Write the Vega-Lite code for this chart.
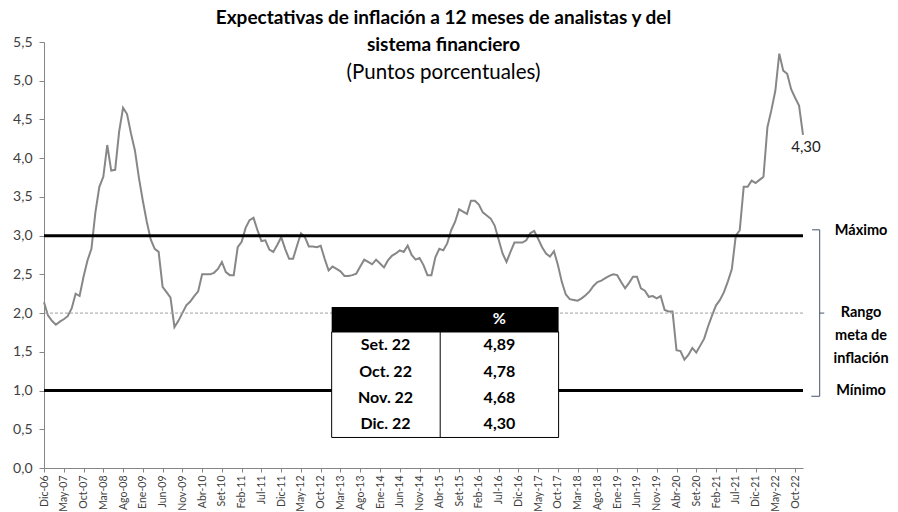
{
  "$schema": "https://vega.github.io/schema/vega-lite/v6.json",
  "width": 759,
  "height": 426,
  "autosize": {"type": "none"},
  "padding": {"left": 44, "top": 42, "right": 95, "bottom": 44},
  "background": "white",
  "config": {
    "font": "Lato",
    "view": {"stroke": null},
    "locale": {"number": {"decimal": ",", "thousands": ".", "grouping": [3], "currency": ["", ""]}},
    "axisY": {
      "title": null,
      "format": ".1f",
      "labelFont": "Lato",
      "labelFontSize": 14,
      "labelColor": "#404040",
      "labelPadding": 7,
      "domainColor": "#868686",
      "tickColor": "#868686",
      "tickSize": 5,
      "grid": false
    }
  },
  "title": {
    "text": ["Expectativas de inflación a 12 meses de analistas y del", "sistema financiero"],
    "subtitle": "(Puntos porcentuales)",
    "anchor": "middle",
    "font": "Lato",
    "fontSize": 19,
    "fontWeight": "bold",
    "color": "#000000",
    "lineHeight": 27,
    "subtitleFont": "Lato",
    "subtitleFontSize": 20.5,
    "subtitleFontWeight": "normal",
    "subtitleColor": "#000000",
    "subtitlePadding": 8,
    "offset": -48,
    "dx": 20
  },
  "datasets": {
    "serie": [
      {"mes": "Dic-06", "v": 2.14},
      {"mes": "Ene-07", "v": 1.97}, {"mes": "Feb-07", "v": 1.90}, {"mes": "Mar-07", "v": 1.85}, {"mes": "Abr-07", "v": 1.89}, {"mes": "May-07", "v": 1.92}, {"mes": "Jun-07", "v": 1.96}, {"mes": "Jul-07", "v": 2.06}, {"mes": "Ago-07", "v": 2.25}, {"mes": "Set-07", "v": 2.22}, {"mes": "Oct-07", "v": 2.47}, {"mes": "Nov-07", "v": 2.68}, {"mes": "Dic-07", "v": 2.83},
      {"mes": "Ene-08", "v": 3.30}, {"mes": "Feb-08", "v": 3.63}, {"mes": "Mar-08", "v": 3.76}, {"mes": "Abr-08", "v": 4.17}, {"mes": "May-08", "v": 3.84}, {"mes": "Jun-08", "v": 3.85}, {"mes": "Jul-08", "v": 4.34}, {"mes": "Ago-08", "v": 4.65}, {"mes": "Set-08", "v": 4.57}, {"mes": "Oct-08", "v": 4.32}, {"mes": "Nov-08", "v": 4.10}, {"mes": "Dic-08", "v": 3.75},
      {"mes": "Ene-09", "v": 3.45}, {"mes": "Feb-09", "v": 3.18}, {"mes": "Mar-09", "v": 2.95}, {"mes": "Abr-09", "v": 2.83}, {"mes": "May-09", "v": 2.79}, {"mes": "Jun-09", "v": 2.34}, {"mes": "Jul-09", "v": 2.27}, {"mes": "Ago-09", "v": 2.20}, {"mes": "Set-09", "v": 1.82}, {"mes": "Oct-09", "v": 1.90}, {"mes": "Nov-09", "v": 2.00}, {"mes": "Dic-09", "v": 2.10},
      {"mes": "Ene-10", "v": 2.15}, {"mes": "Feb-10", "v": 2.22}, {"mes": "Mar-10", "v": 2.28}, {"mes": "Abr-10", "v": 2.50}, {"mes": "May-10", "v": 2.50}, {"mes": "Jun-10", "v": 2.50}, {"mes": "Jul-10", "v": 2.52}, {"mes": "Ago-10", "v": 2.57}, {"mes": "Set-10", "v": 2.66}, {"mes": "Oct-10", "v": 2.53}, {"mes": "Nov-10", "v": 2.49}, {"mes": "Dic-10", "v": 2.49},
      {"mes": "Ene-11", "v": 2.85}, {"mes": "Feb-11", "v": 2.92}, {"mes": "Mar-11", "v": 3.10}, {"mes": "Abr-11", "v": 3.20}, {"mes": "May-11", "v": 3.23}, {"mes": "Jun-11", "v": 3.07}, {"mes": "Jul-11", "v": 2.93}, {"mes": "Ago-11", "v": 2.94}, {"mes": "Set-11", "v": 2.82}, {"mes": "Oct-11", "v": 2.79}, {"mes": "Nov-11", "v": 2.88}, {"mes": "Dic-11", "v": 2.98},
      {"mes": "Ene-12", "v": 2.83}, {"mes": "Feb-12", "v": 2.70}, {"mes": "Mar-12", "v": 2.70}, {"mes": "Abr-12", "v": 2.87}, {"mes": "May-12", "v": 3.03}, {"mes": "Jun-12", "v": 2.98}, {"mes": "Jul-12", "v": 2.86}, {"mes": "Ago-12", "v": 2.86}, {"mes": "Set-12", "v": 2.85}, {"mes": "Oct-12", "v": 2.87}, {"mes": "Nov-12", "v": 2.70}, {"mes": "Dic-12", "v": 2.55},
      {"mes": "Ene-13", "v": 2.60}, {"mes": "Feb-13", "v": 2.57}, {"mes": "Mar-13", "v": 2.54}, {"mes": "Abr-13", "v": 2.48}, {"mes": "May-13", "v": 2.48}, {"mes": "Jun-13", "v": 2.49}, {"mes": "Jul-13", "v": 2.51}, {"mes": "Ago-13", "v": 2.60}, {"mes": "Set-13", "v": 2.69}, {"mes": "Oct-13", "v": 2.66}, {"mes": "Nov-13", "v": 2.63}, {"mes": "Dic-13", "v": 2.69},
      {"mes": "Ene-14", "v": 2.64}, {"mes": "Feb-14", "v": 2.59}, {"mes": "Mar-14", "v": 2.68}, {"mes": "Abr-14", "v": 2.74}, {"mes": "May-14", "v": 2.77}, {"mes": "Jun-14", "v": 2.81}, {"mes": "Jul-14", "v": 2.79}, {"mes": "Ago-14", "v": 2.87}, {"mes": "Set-14", "v": 2.75}, {"mes": "Oct-14", "v": 2.69}, {"mes": "Nov-14", "v": 2.71}, {"mes": "Dic-14", "v": 2.62},
      {"mes": "Ene-15", "v": 2.49}, {"mes": "Feb-15", "v": 2.49}, {"mes": "Mar-15", "v": 2.72}, {"mes": "Abr-15", "v": 2.83}, {"mes": "May-15", "v": 2.81}, {"mes": "Jun-15", "v": 2.90}, {"mes": "Jul-15", "v": 3.07}, {"mes": "Ago-15", "v": 3.18}, {"mes": "Set-15", "v": 3.34}, {"mes": "Oct-15", "v": 3.31}, {"mes": "Nov-15", "v": 3.28}, {"mes": "Dic-15", "v": 3.45},
      {"mes": "Ene-16", "v": 3.45}, {"mes": "Feb-16", "v": 3.40}, {"mes": "Mar-16", "v": 3.30}, {"mes": "Abr-16", "v": 3.26}, {"mes": "May-16", "v": 3.22}, {"mes": "Jun-16", "v": 3.13}, {"mes": "Jul-16", "v": 2.95}, {"mes": "Ago-16", "v": 2.77}, {"mes": "Set-16", "v": 2.66}, {"mes": "Oct-16", "v": 2.79}, {"mes": "Nov-16", "v": 2.91}, {"mes": "Dic-16", "v": 2.91},
      {"mes": "Ene-17", "v": 2.91}, {"mes": "Feb-17", "v": 2.94}, {"mes": "Mar-17", "v": 3.03}, {"mes": "Abr-17", "v": 3.06}, {"mes": "May-17", "v": 2.96}, {"mes": "Jun-17", "v": 2.85}, {"mes": "Jul-17", "v": 2.77}, {"mes": "Ago-17", "v": 2.73}, {"mes": "Set-17", "v": 2.80}, {"mes": "Oct-17", "v": 2.62}, {"mes": "Nov-17", "v": 2.40}, {"mes": "Dic-17", "v": 2.24},
      {"mes": "Ene-18", "v": 2.18}, {"mes": "Feb-18", "v": 2.17}, {"mes": "Mar-18", "v": 2.16}, {"mes": "Abr-18", "v": 2.19}, {"mes": "May-18", "v": 2.23}, {"mes": "Jun-18", "v": 2.28}, {"mes": "Jul-18", "v": 2.35}, {"mes": "Ago-18", "v": 2.40}, {"mes": "Set-18", "v": 2.42}, {"mes": "Oct-18", "v": 2.45}, {"mes": "Nov-18", "v": 2.48}, {"mes": "Dic-18", "v": 2.50},
      {"mes": "Ene-19", "v": 2.49}, {"mes": "Feb-19", "v": 2.40}, {"mes": "Mar-19", "v": 2.32}, {"mes": "Abr-19", "v": 2.39}, {"mes": "May-19", "v": 2.47}, {"mes": "Jun-19", "v": 2.47}, {"mes": "Jul-19", "v": 2.32}, {"mes": "Ago-19", "v": 2.29}, {"mes": "Set-19", "v": 2.21}, {"mes": "Oct-19", "v": 2.22}, {"mes": "Nov-19", "v": 2.19}, {"mes": "Dic-19", "v": 2.22},
      {"mes": "Ene-20", "v": 2.04}, {"mes": "Feb-20", "v": 2.02}, {"mes": "Mar-20", "v": 2.02}, {"mes": "Abr-20", "v": 1.52}, {"mes": "May-20", "v": 1.51}, {"mes": "Jun-20", "v": 1.40}, {"mes": "Jul-20", "v": 1.46}, {"mes": "Ago-20", "v": 1.55}, {"mes": "Set-20", "v": 1.49}, {"mes": "Oct-20", "v": 1.58}, {"mes": "Nov-20", "v": 1.67}, {"mes": "Dic-20", "v": 1.83},
      {"mes": "Ene-21", "v": 1.97}, {"mes": "Feb-21", "v": 2.10}, {"mes": "Mar-21", "v": 2.17}, {"mes": "Abr-21", "v": 2.27}, {"mes": "May-21", "v": 2.41}, {"mes": "Jun-21", "v": 2.57}, {"mes": "Jul-21", "v": 3.00}, {"mes": "Ago-21", "v": 3.07}, {"mes": "Set-21", "v": 3.63}, {"mes": "Oct-21", "v": 3.63}, {"mes": "Nov-21", "v": 3.71}, {"mes": "Dic-21", "v": 3.68},
      {"mes": "Ene-22", "v": 3.72}, {"mes": "Feb-22", "v": 3.76}, {"mes": "Mar-22", "v": 4.40}, {"mes": "Abr-22", "v": 4.62}, {"mes": "May-22", "v": 4.87}, {"mes": "Jun-22", "v": 5.35}, {"mes": "Jul-22", "v": 5.13}, {"mes": "Ago-22", "v": 5.09}, {"mes": "Set-22", "v": 4.89}, {"mes": "Oct-22", "v": 4.78}, {"mes": "Nov-22", "v": 4.68}, {"mes": "Dic-22", "v": 4.30}
    ],
    "umbrales": [
      {"nivel": "Máximo", "valor": 3, "etiqueta": "Máximo"},
      {"nivel": "Meta", "valor": 2, "etiqueta": ["Rango", "meta de", "inflación"]},
      {"nivel": "Mínimo", "valor": 1, "etiqueta": "Mínimo"}
    ],
    "tabla": [
      {"periodo": "Set. 22", "valor": 4.89},
      {"periodo": "Oct. 22", "valor": 4.78},
      {"periodo": "Nov. 22", "valor": 4.68},
      {"periodo": "Dic. 22", "valor": 4.30}
    ]
  },
  "resolve": {"scale": {"x": "independent", "y": "independent"}},
  "layer": [
    {
      "layer": [
        {
          "data": {"name": "serie"},
          "mark": {"type": "line", "color": "#878787", "strokeWidth": 2},
          "encoding": {
            "x": {
              "field": "mes", "type": "ordinal", "sort": null,
              "scale": {"type": "point", "padding": 0},
              "axis": {
                "title": null,
                "values": ["Dic-06","May-07","Oct-07","Mar-08","Ago-08","Ene-09","Jun-09","Nov-09","Abr-10","Set-10","Feb-11","Jul-11","Dic-11","May-12","Oct-12","Mar-13","Ago-13","Ene-14","Jun-14","Nov-14","Abr-15","Set-15","Feb-16","Jul-16","Dic-16","May-17","Oct-17","Mar-18","Ago-18","Ene-19","Jun-19","Nov-19","Abr-20","Set-20","Feb-21","Jul-21","Dic-21","May-22","Oct-22"],
                "labelAngle": -90,
                "labelFont": "Lato",
                "labelFontSize": 10.5,
                "labelColor": "#404040",
                "labelPadding": 3,
                "labelOverlap": false,
                "domainColor": "#868686",
                "tickColor": "#868686",
                "tickSize": 4,
                "grid": false
              }
            },
            "y": {
              "field": "v", "type": "quantitative",
              "scale": {"domain": [0, 5.5], "nice": false},
              "axis": {"values": [0, 0.5, 1, 1.5, 2, 2.5, 3, 3.5, 4, 4.5, 5, 5.5], "labelOverlap": false}
            }
          }
        },
        {
          "data": {"name": "umbrales"},
          "transform": [{"filter": "datum.nivel === 'Meta'"}],
          "mark": {"type": "rule", "color": "#a0a0a0", "strokeWidth": 1, "strokeDash": [3, 2]},
          "encoding": {"y": {"field": "valor", "type": "quantitative", "axis": {"values": [0, 0.5, 1, 1.5, 2, 2.5, 3, 3.5, 4, 4.5, 5, 5.5], "labelOverlap": false}}}
        },
        {
          "data": {"name": "umbrales"},
          "transform": [{"filter": "datum.nivel !== 'Meta'"}],
          "mark": {"type": "rule", "color": "#000000", "strokeWidth": 3},
          "encoding": {"y": {"field": "valor", "type": "quantitative", "axis": {"values": [0, 0.5, 1, 1.5, 2, 2.5, 3, 3.5, 4, 4.5, 5, 5.5], "labelOverlap": false}}}
        },
        {
          "data": {"name": "serie"},
          "mark": {"type": "text", "font": "Lato", "fontSize": 15, "color": "#222222", "dx": 3, "dy": 12},
          "encoding": {
            "x": {"field": "mes", "type": "ordinal", "sort": null},
            "y": {"field": "v", "type": "quantitative", "axis": {"values": [0, 0.5, 1, 1.5, 2, 2.5, 3, 3.5, 4, 4.5, 5, 5.5], "labelOverlap": false}},
            "text": {"condition": {"test": "datum.mes === 'Dic-22'", "field": "v", "format": ".2f"}, "value": ""}
          }
        }
      ]
    },
    {
      "data": {"values": [{}]},
      "layer": [
        {
          "mark": {"type": "rect", "color": "#000000"},
          "encoding": {
            "x": {"datum": 0.379, "type": "quantitative", "scale": {"domain": [0, 1]}, "axis": null},
            "x2": {"datum": 0.678},
            "y": {"datum": 2.079, "type": "quantitative", "scale": {"domain": [0, 5.5]}, "axis": null},
            "y2": {"datum": 1.756}
          }
        },
        {
          "mark": {"type": "rect", "fill": "#ffffff", "stroke": "#000000", "strokeWidth": 1},
          "encoding": {
            "x": {"datum": 0.379, "type": "quantitative", "scale": {"domain": [0, 1]}, "axis": null},
            "x2": {"datum": 0.678},
            "y": {"datum": 1.756, "type": "quantitative", "scale": {"domain": [0, 5.5]}, "axis": null},
            "y2": {"datum": 0.394}
          }
        },
        {
          "mark": {"type": "rule", "color": "#000000", "strokeWidth": 1},
          "encoding": {
            "x": {"datum": 0.522, "type": "quantitative", "scale": {"domain": [0, 1]}, "axis": null},
            "y": {"datum": 1.756, "type": "quantitative", "scale": {"domain": [0, 5.5]}, "axis": null},
            "y2": {"datum": 0.394}
          }
        },
        {
          "mark": {"type": "text", "text": "%", "font": "Lato", "fontSize": 16, "fontWeight": "bold", "color": "#ffffff"},
          "encoding": {
            "x": {"datum": 0.600, "type": "quantitative", "scale": {"domain": [0, 1]}, "axis": null},
            "y": {"datum": 1.918, "type": "quantitative", "scale": {"domain": [0, 5.5]}, "axis": null}
          }
        },
        {
          "mark": {"type": "rule", "color": "#44546a", "strokeWidth": 1},
          "encoding": {
            "x": {"datum": 1.022, "type": "quantitative", "scale": {"domain": [0, 1]}, "axis": null},
            "y": {"datum": 3.075, "type": "quantitative", "scale": {"domain": [0, 5.5]}, "axis": null},
            "y2": {"datum": 0.926}
          }
        },
        {
          "mark": {"type": "rule", "color": "#44546a", "strokeWidth": 1},
          "encoding": {
            "x": {"datum": 1.012, "type": "quantitative", "scale": {"domain": [0, 1]}, "axis": null},
            "x2": {"datum": 1.022},
            "y": {"datum": 3.075, "type": "quantitative", "scale": {"domain": [0, 5.5]}, "axis": null}
          }
        },
        {
          "mark": {"type": "rule", "color": "#44546a", "strokeWidth": 1},
          "encoding": {
            "x": {"datum": 1.011, "type": "quantitative", "scale": {"domain": [0, 1]}, "axis": null},
            "x2": {"datum": 1.022},
            "y": {"datum": 0.926, "type": "quantitative", "scale": {"domain": [0, 5.5]}, "axis": null}
          }
        },
        {
          "mark": {"type": "rule", "color": "#44546a", "strokeWidth": 1},
          "encoding": {
            "x": {"datum": 1.022, "type": "quantitative", "scale": {"domain": [0, 1]}, "axis": null},
            "x2": {"datum": 1.028},
            "y": {"datum": 2.0, "type": "quantitative", "scale": {"domain": [0, 5.5]}, "axis": null}
          }
        },
        {
          "data": {"name": "umbrales"},
          "transform": [{"filter": "datum.nivel === 'Máximo'"}],
          "mark": {"type": "text", "font": "Lato", "fontSize": 14.5, "fontWeight": "bold", "color": "#000000", "dy": -5},
          "encoding": {
            "x": {"datum": 1.0765, "type": "quantitative", "scale": {"domain": [0, 1]}, "axis": null},
            "y": {"field": "valor", "type": "quantitative", "scale": {"domain": [0, 5.5]}, "axis": null},
            "text": {"field": "etiqueta"}
          }
        },
        {
          "data": {"name": "umbrales"},
          "transform": [{"filter": "datum.nivel !== 'Máximo'"}],
          "mark": {"type": "text", "font": "Lato", "fontSize": 14.5, "fontWeight": "bold", "color": "#000000", "lineHeight": 23},
          "encoding": {
            "x": {"datum": 1.0765, "type": "quantitative", "scale": {"domain": [0, 1]}, "axis": null},
            "y": {"field": "valor", "type": "quantitative", "scale": {"domain": [0, 5.5]}, "axis": null},
            "text": {"field": "etiqueta"}
          }
        }
      ]
    },
    {
      "data": {"name": "tabla"},
      "layer": [
        {
          "mark": {"type": "text", "font": "Lato", "fontSize": 16, "fontWeight": "bold", "color": "#000000"},
          "encoding": {
            "x": {"datum": 0.450, "type": "quantitative", "scale": {"domain": [0, 1]}, "axis": null},
            "y": {"field": "periodo", "type": "ordinal", "sort": null, "scale": {"type": "band", "range": [290, 395.6], "paddingInner": 0, "paddingOuter": 0}, "axis": null},
            "text": {"field": "periodo"}
          }
        },
        {
          "mark": {"type": "text", "font": "Lato", "fontSize": 16, "fontWeight": "bold", "color": "#000000"},
          "encoding": {
            "x": {"datum": 0.600, "type": "quantitative", "scale": {"domain": [0, 1]}, "axis": null},
            "y": {"field": "periodo", "type": "ordinal", "sort": null},
            "text": {"field": "valor", "format": ".2f"}
          }
        }
      ]
    }
  ]
}
